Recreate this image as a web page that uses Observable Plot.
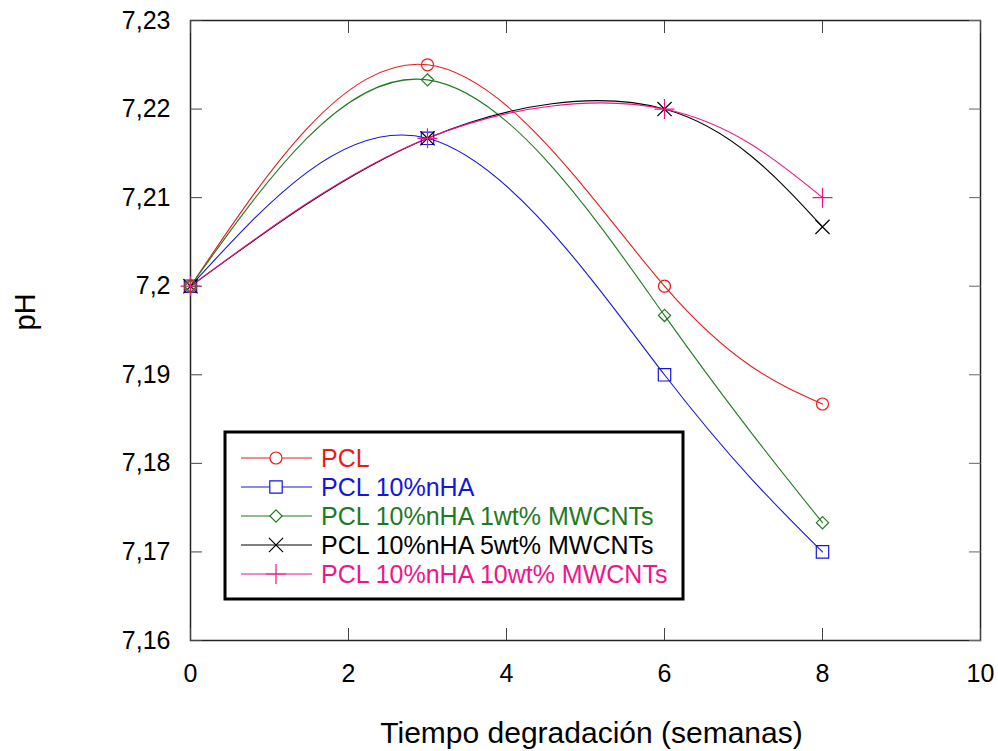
<!DOCTYPE html>
<html>
<head>
<meta charset="utf-8">
<script src="https://cdn.jsdelivr.net/npm/d3@7"></script>
<script src="https://cdn.jsdelivr.net/npm/@observablehq/plot@0.6"></script>
<style>
  html, body { margin: 0; padding: 0; background: #fff; }
  #wrap { position: relative; width: 998px; height: 751px; font-family: "Liberation Sans", Arial, sans-serif; }
  #legend { position: absolute; left: 0; top: 0; }
</style>
</head>
<body>
<div id="wrap"></div>
<script>
// ---- data ----
const weeks = [0, 3, 6, 8];
const seriesNames = [
  "PCL",
  "PCL 10%nHA",
  "PCL 10%nHA 1wt% MWCNTs",
  "PCL 10%nHA 5wt% MWCNTs",
  "PCL 10%nHA 10wt% MWCNTs"
];
const pcl        = [7.2, 7.225,  7.2,    7.1867];
const pclHA      = [7.2, 7.2167, 7.19,   7.17];
const pclHA1     = [7.2, 7.2233, 7.1967, 7.1733];
const pclHA5     = [7.2, 7.2167, 7.22,   7.2067];
const pclHA10    = [7.2, 7.2167, 7.22,   7.21];
const seriesValues = [pcl, pclHA, pclHA1, pclHA5, pclHA10];
const xTicks = [0, 2, 4, 6, 8, 10];
const yTicks = [7.16, 7.17, 7.18, 7.19, 7.2, 7.21, 7.22, 7.23];
const xLabel = "Tiempo degradación (semanas)";
const yLabel = "pH";

// ---- styles ----
const colors  = ["#e81b1b", "#1515e0", "#1f7a1f", "#000000", "#f0148c"];
const symbols = ["circle", "square", "diamond2", "times", "plus"];
const radii   = [6, 7, 5.5, 6.5, 6.5];

const rows = [];
seriesNames.forEach((name, i) => {
  weeks.forEach((w, j) => rows.push({series: name, x: w, y: seriesValues[i][j]}));
});

const fmt = d => String(d).replace(".", ",");
const font = "Liberation Sans, Arial, sans-serif";

const chart = Plot.plot({
  width: 998,
  height: 751,
  marginLeft: 190,
  marginRight: 18,
  marginTop: 20,
  marginBottom: 111,
  style: {fontFamily: font, background: "#fff", color: "#000"},
  x: {domain: [0, 10]},
  y: {domain: [7.16, 7.23]},
  r: {type: "identity"},
  color: {domain: seriesNames, range: colors},
  symbol: {domain: seriesNames, range: symbols},
  marks: [
    Plot.frame({stroke: "#222", strokeWidth: 1.5}),
    Plot.axisY({ticks: yTicks, tickSize: -12, tickPadding: 32, tickFormat: fmt, fontSize: 25, label: null, stroke: "#444"}),
    Plot.axisY({anchor: "right", ticks: yTicks, tickSize: -12, tickFormat: () => "", label: null, stroke: "#666"}),
    Plot.axisX({ticks: xTicks, tickSize: -12, tickPadding: 36, tickFormat: fmt, fontSize: 25, label: null, stroke: "#444"}),
    Plot.axisX({anchor: "top", ticks: xTicks, tickSize: -12, tickFormat: () => "", label: null, stroke: "#444"}),
    Plot.line(rows, {x: "x", y: "y", z: "series", stroke: "series", curve: "natural", strokeWidth: 1.1}),
    Plot.dot(rows, {x: "x", y: "y", stroke: "series", symbol: "series", fill: "none", strokeWidth: 1.2,
      r: d => radii[seriesNames.indexOf(d.series)]}),
    Plot.text([xLabel], {frameAnchor: "bottom", dy: 102, dx: 6, lineAnchor: "bottom", fontSize: 30, fill: "#000"}),
    Plot.text([yLabel], {frameAnchor: "left", dx: -156, rotate: -90, lineAnchor: "bottom", fontSize: 29, fill: "#000"})
  ]
});
const wrap = document.getElementById("wrap");
wrap.appendChild(chart);

// ---- legend (overlay) ----
const lg = d3.select(wrap).append("svg")
  .attr("id", "legend").attr("width", 998).attr("height", 751)
  .style("pointer-events", "none");
const box = {x: 225, y: 432, w: 458, h: 167};
lg.append("rect").attr("x", box.x).attr("y", box.y).attr("width", box.w).attr("height", box.h)
  .attr("fill", "#fff").attr("stroke", "#000").attr("stroke-width", 3);
const symMap = {circle: d3.symbolCircle, square: d3.symbolSquare, diamond2: d3.symbolDiamond2, times: d3.symbolTimes, plus: d3.symbolPlus};
seriesNames.forEach((name, i) => {
  const cy = 458 + i * 29;
  const g = lg.append("g");
  g.append("line").attr("x1", 241).attr("x2", 312).attr("y1", cy).attr("y2", cy)
    .attr("stroke", colors[i]).attr("stroke-width", 1.1);
  g.append("path").attr("transform", `translate(276,${cy})`)
    .attr("d", d3.symbol(symMap[symbols[i]], Math.PI * radii[i] * radii[i])())
    .attr("fill", symbols[i] === "times" || symbols[i] === "plus" ? "none" : "#fff")
    .attr("stroke", colors[i]).attr("stroke-width", 1.2);
  g.append("text").attr("x", 321).attr("y", cy).attr("dy", "0.36em")
    .attr("fill", colors[i]).attr("font-size", 25).attr("font-family", font).text(name);
});
</script>
</body>
</html>
